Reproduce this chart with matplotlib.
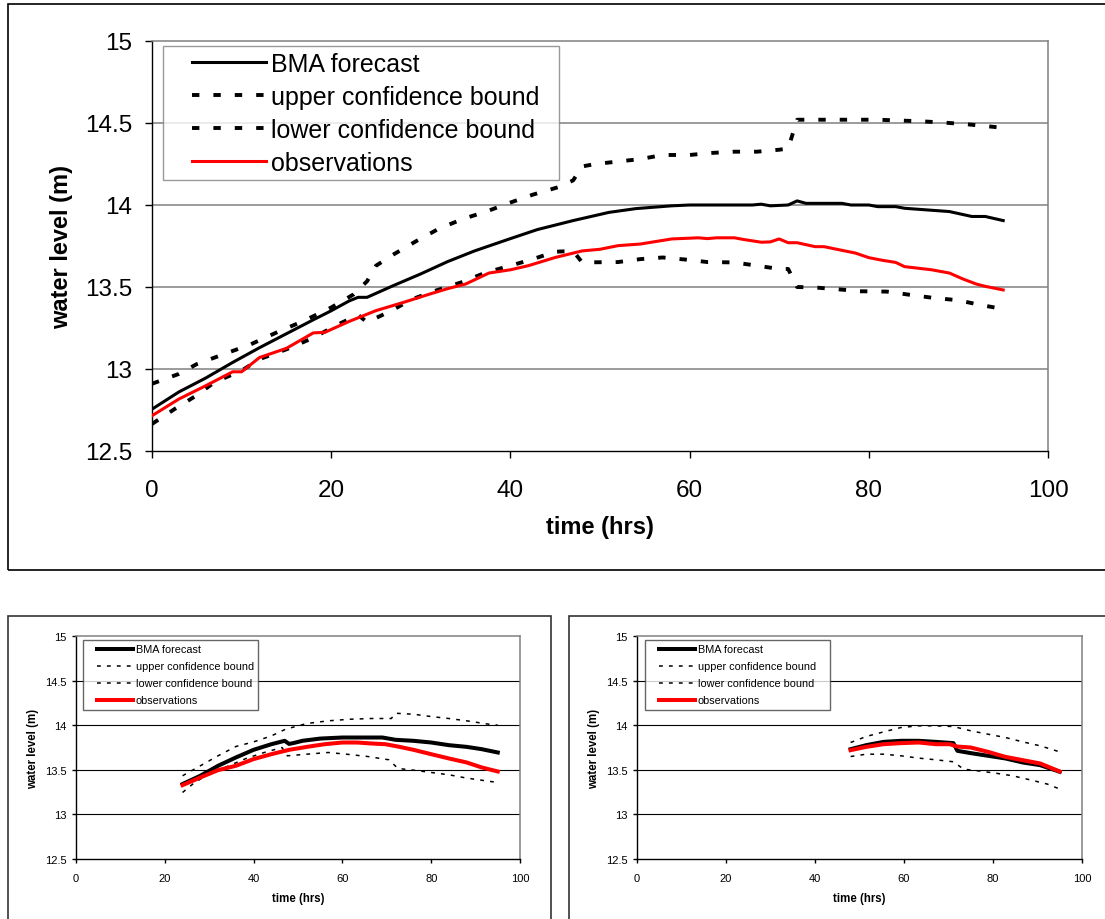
import matplotlib
matplotlib.use("Agg")
import matplotlib.pyplot as plt
from matplotlib.patches import Rectangle
from matplotlib.legend_handler import HandlerLine2D

plt.rcParams['font.family'] = ['Liberation Sans', 'DejaVu Sans']

# ---------------- data: full 96-hour run ----------------
top_bma_t = [0, 3, 6, 9, 12, 15, 18, 20, 22, 23, 24, 27, 30, 33, 36, 40, 43, 47, 51, 54,
             58, 60, 67, 68, 69, 71, 72, 73, 77, 78, 80, 81, 83, 84, 86, 88, 89, 91.5, 93, 95]
top_bma = [12.755, 12.86, 12.945, 13.04, 13.13, 13.215, 13.30, 13.355, 13.415, 13.437,
           13.437, 13.51, 13.58, 13.655, 13.72, 13.795, 13.85, 13.905, 13.955, 13.978,
           13.995, 14.0, 14.0, 14.005, 13.995, 14.0, 14.025, 14.01, 14.01, 14.0,
           14.0, 13.99, 13.99, 13.98, 13.972, 13.964, 13.96, 13.93, 13.93, 13.905]

top_upper_t = [0, 3, 5, 8, 11, 14, 17, 20, 22.5, 24, 25, 27, 29.5, 32, 34.7, 37.3, 40, 42.5,
               45.3, 47, 48, 49.5, 52, 54.5, 57, 60, 62.3, 65, 67.5, 70, 71, 72, 75, 78, 81,
               83.5, 86, 88.5, 91, 94, 95]
top_upper = [12.91, 12.97, 13.03, 13.09, 13.15, 13.225, 13.295, 13.375, 13.455, 13.535,
             13.63, 13.70, 13.78, 13.855, 13.915, 13.96, 14.015, 14.063, 14.108, 14.15,
             14.235, 14.25, 14.265, 14.28, 14.305, 14.305, 14.317, 14.325, 14.325, 14.337,
             14.345, 14.52, 14.52, 14.52, 14.52, 14.515, 14.51, 14.502, 14.492, 14.476, 14.47]

top_lower_t = [0, 2.5, 5, 7, 10, 12, 15, 18, 20.5, 23, 24, 26.7, 29, 31.5, 34.5, 37.3, 40,
               42.5, 45, 47, 48, 52, 54.5, 57, 60, 62, 65, 67.5, 70, 71, 72, 74, 77, 79, 82,
               84.5, 87, 90, 92.5, 95]
top_lower = [12.665, 12.755, 12.84, 12.92, 12.99, 13.06, 13.12, 13.19, 13.265, 13.33,
             13.285, 13.355, 13.425, 13.475, 13.528, 13.589, 13.63, 13.67, 13.715, 13.72,
             13.65, 13.652, 13.67, 13.68, 13.665, 13.652, 13.65, 13.63, 13.61, 13.61,
             13.50, 13.497, 13.484, 13.474, 13.472, 13.453, 13.435, 13.419, 13.39, 13.366]

top_obs_t = [0, 3, 6, 9, 10, 12, 15, 18, 19.3, 22, 25, 28, 31, 33, 35, 37.6, 40, 42, 45,
             48, 50, 52, 54.5, 58, 61, 62, 63, 65, 66, 68, 69, 70, 71, 72, 74, 75, 76.6,
             78.5, 80, 81.5, 83, 84, 85.6, 87, 89, 90.5, 92, 93, 95]
top_obs = [12.715, 12.817, 12.898, 12.983, 12.983, 13.07, 13.126, 13.22, 13.224, 13.29,
           13.356, 13.405, 13.457, 13.49, 13.518, 13.585, 13.605, 13.63, 13.68, 13.72,
           13.73, 13.752, 13.762, 13.793, 13.80, 13.795, 13.80, 13.80, 13.79, 13.773,
           13.775, 13.793, 13.77, 13.77, 13.746, 13.746, 13.728, 13.707, 13.679, 13.663,
           13.65, 13.624, 13.614, 13.605, 13.585, 13.549, 13.518, 13.504, 13.482]

# ---------------- data: run started at hour 24 ----------------
mid_bma_t = [24, 28, 32, 36, 40, 44, 47, 48, 49, 51, 55, 60, 69, 72, 76, 80, 84, 88, 91.4, 95]
mid_bma = [13.34, 13.433, 13.545, 13.638, 13.724, 13.787, 13.825, 13.79, 13.80, 13.825,
           13.85, 13.862, 13.862, 13.836, 13.825, 13.806, 13.776, 13.757, 13.731, 13.694]

mid_upper_t = [24, 28, 32, 36, 40, 44, 47.2, 52, 56.8, 61.7, 66.5, 71, 72, 76, 80, 84, 88,
               93, 95]
mid_upper = [13.433, 13.545, 13.657, 13.761, 13.813, 13.88, 13.955, 14.019, 14.049, 14.067,
             14.075, 14.075, 14.134, 14.123, 14.097, 14.075, 14.049, 14.011, 14.0]

mid_lower_t = [24, 26.3, 29.5, 33.5, 38.3, 42.4, 46.4, 47.6, 52, 56.8, 60.9, 65.7, 70.5,
               72.5, 76, 80, 84, 88, 93.8, 95]
mid_lower = [13.246, 13.34, 13.444, 13.526, 13.627, 13.694, 13.75, 13.657, 13.675, 13.694,
             13.675, 13.649, 13.612, 13.515, 13.496, 13.47, 13.444, 13.407, 13.366, 13.36]

mid_obs_t = [24, 28, 32, 36, 40, 44, 48, 52, 56, 60, 63.3, 66.5, 69.7, 72.9, 76, 80, 84, 88,
             91.4, 95]
mid_obs = [13.328, 13.414, 13.496, 13.545, 13.62, 13.675, 13.724, 13.757, 13.787, 13.806,
           13.806, 13.795, 13.787, 13.757, 13.724, 13.675, 13.627, 13.582, 13.526, 13.481]

# ---------------- data: run started at hour 48 ----------------
late_bma_t = [48, 51.5, 55.4, 59.3, 63.3, 67.2, 71.1, 72, 75, 78.9, 82.8, 86.7, 90.6, 95]
late_bma = [13.731, 13.776, 13.813, 13.825, 13.825, 13.813, 13.799, 13.713, 13.687, 13.657,
            13.627, 13.582, 13.552, 13.478]

late_upper_t = [48, 51.5, 55.4, 59.3, 63.3, 67.2, 71.1, 75, 78.9, 82.8, 86.7, 90.6, 95]
late_upper = [13.806, 13.873, 13.925, 13.974, 13.993, 13.993, 13.985, 13.937, 13.899,
              13.862, 13.813, 13.769, 13.701]

late_lower_t = [48, 51.5, 55.4, 59.3, 63.3, 67.2, 71.1, 73.4, 76.5, 80.5, 84.4, 88.3, 92.2, 95]
late_lower = [13.649, 13.675, 13.675, 13.657, 13.631, 13.612, 13.59, 13.507, 13.489, 13.463,
              13.433, 13.388, 13.34, 13.284]

late_obs_t = [48, 51.5, 55.4, 59.3, 63.3, 67.2, 70.3, 71.9, 75, 78.9, 82.8, 86.7, 90.6, 95]
late_obs = [13.72, 13.757, 13.787, 13.799, 13.806, 13.787, 13.787, 13.761, 13.75, 13.701,
            13.645, 13.608, 13.571, 13.481]

x_ticks = [0, 20, 40, 60, 80, 100]
y_ticks = [12.5, 13, 13.5, 14, 14.5, 15]
y_ticklabels = ['12.5', '13', '13.5', '14', '14.5', '15']
series_labels = ['BMA forecast', 'upper confidence bound', 'lower confidence bound',
                 'observations']

W, H = 1105, 920
fig = plt.figure(figsize=(W / 100, H / 100), dpi=100)


def fig_box(x0, y0, x1, y1, color, lw):
    """Rectangle given in pixel coordinates (top-left origin)."""
    fig.patches.append(Rectangle((x0 / W, 1 - y1 / H), (x1 - x0) / W, (y1 - y0) / H,
                                 transform=fig.transFigure, fill=False,
                                 edgecolor=color, linewidth=lw, zorder=0))


def add_axes_px(x0, y0, x1, y1):
    return fig.add_axes([x0 / W, 1 - y1 / H, (x1 - x0) / W, (y1 - y0) / H])


def draw_panel(ax, data, big):
    (bt, bv), (ut, uv), (lt, lv), (ot, ov) = data
    if big:
        lw_main, lw_bound, dashes = 2.2, 2.8, (1.9, 3.6)
        grid_color, grid_lw = '#808080', 1.1
        fs_tick, fs_label = 17.5, 17
        tick_len, ypad, xpad = 5, 9, 15
    else:
        lw_main, lw_bound, dashes = 2.9, 1.1, (2.5, 4.0)
        grid_color, grid_lw = '#000000', 0.8
        fs_tick, fs_label = 8, 8.3
        tick_len, ypad, xpad = 3, 4, 7

    ax.plot(bt, bv, color='black', lw=lw_main, solid_joinstyle='round',
            label=series_labels[0], zorder=3)
    ax.plot(ut, uv, color='black', lw=lw_bound, dashes=dashes, dash_capstyle='butt',
            label=series_labels[1], zorder=3)
    ax.plot(lt, lv, color='black', lw=lw_bound, dashes=dashes, dash_capstyle='butt',
            label=series_labels[2], zorder=3)
    ax.plot(ot, ov, color='#ff0000', lw=lw_main, solid_joinstyle='round',
            label=series_labels[3], zorder=4)

    ax.set_xlim(0, 100)
    ax.set_ylim(12.5, 15)
    ax.set_xticks(x_ticks)
    ax.set_yticks(y_ticks)
    ax.set_yticklabels(y_ticklabels)
    for y in y_ticks[1:-1]:
        ax.axhline(y, color=grid_color, lw=grid_lw, zorder=1)

    ax.tick_params(axis='both', direction='out', length=tick_len, width=1, color='black',
                   labelsize=fs_tick)
    ax.tick_params(axis='y', pad=ypad)
    ax.tick_params(axis='x', pad=xpad)

    ax.spines['left'].set_color('black')
    ax.spines['bottom'].set_color('black')
    ax.spines['left'].set_linewidth(1.0)
    ax.spines['bottom'].set_linewidth(1.0)
    for s in ('top', 'right'):
        ax.spines[s].set_color('#808080')
        ax.spines[s].set_linewidth(1.1)

    ax.set_xlabel('time (hrs)', fontsize=fs_label, fontweight='bold', va='center')
    ax.set_ylabel('water level (m)', fontsize=fs_label, fontweight='bold', va='center')


def add_legend(ax, box, fs, xpad, handlelength, textpad, spacing, borderpad, edge):
    """box = (left, top, width) in axes fraction; the frame is stretched to width."""
    handler = HandlerLine2D(xpad=xpad)
    handles = ax.get_lines()[:4]
    left, top, width = box
    leg = ax.legend(handles=handles, labels=series_labels, loc='upper left',
                    bbox_to_anchor=(left, top, width, 0), mode='expand',
                    borderaxespad=0, fontsize=fs, frameon=True,
                    fancybox=False, edgecolor=edge, handlelength=handlelength,
                    handletextpad=textpad, labelspacing=spacing, borderpad=borderpad,
                    handler_map={h: handler for h in handles})
    leg.get_frame().set_linewidth(1.0)
    return leg


# ---------------- top panel ----------------
fig_box(8, 5, 1112, 571, 'black', 1.2)
ax_top = add_axes_px(152, 42, 1048, 452)
draw_panel(ax_top, [(top_bma_t, top_bma), (top_upper_t, top_upper),
                    (top_lower_t, top_lower), (top_obs_t, top_obs)], True)
ax_top.xaxis.set_label_coords(0.5, -0.183)
ax_top.yaxis.set_label_coords((62 - 152) / 896, 0.5)
add_legend(ax_top, (11 / 896, 1 - 5 / 410, 396 / 896), 18, 0.94, 3.9, 0.2, 0.36, 0.22,
           '#808080')

# ---------------- bottom-left panel ----------------
fig_box(8, 617, 551, 930, '#333333', 1.2)
ax_bl = add_axes_px(76, 637, 520, 860)
draw_panel(ax_bl, [(mid_bma_t, mid_bma), (mid_upper_t, mid_upper),
                   (mid_lower_t, mid_lower), (mid_obs_t, mid_obs)], False)
ax_bl.xaxis.set_label_coords(0.5, -0.175)
ax_bl.yaxis.set_label_coords((33 - 76) / 444, 0.5)
add_legend(ax_bl, (7 / 444, 1 - 4 / 223, 175 / 444), 7.8, 0.85, 4.2, 0.26, 0.65, 0.4,
           '#404040')

# ---------------- bottom-right panel ----------------
fig_box(569, 617, 1112, 930, '#333333', 1.2)
ax_br = add_axes_px(637, 637, 1082, 860)
draw_panel(ax_br, [(late_bma_t, late_bma), (late_upper_t, late_upper),
                   (late_lower_t, late_lower), (late_obs_t, late_obs)], False)
ax_br.xaxis.set_label_coords(0.5, -0.175)
ax_br.yaxis.set_label_coords((594 - 637) / 445, 0.5)
add_legend(ax_br, (8 / 445, 1 - 4 / 223, 185 / 445), 7.8, 0.85, 4.2, 0.26, 0.65, 0.4,
           '#404040')

fig.savefig('out.png', dpi=100)
